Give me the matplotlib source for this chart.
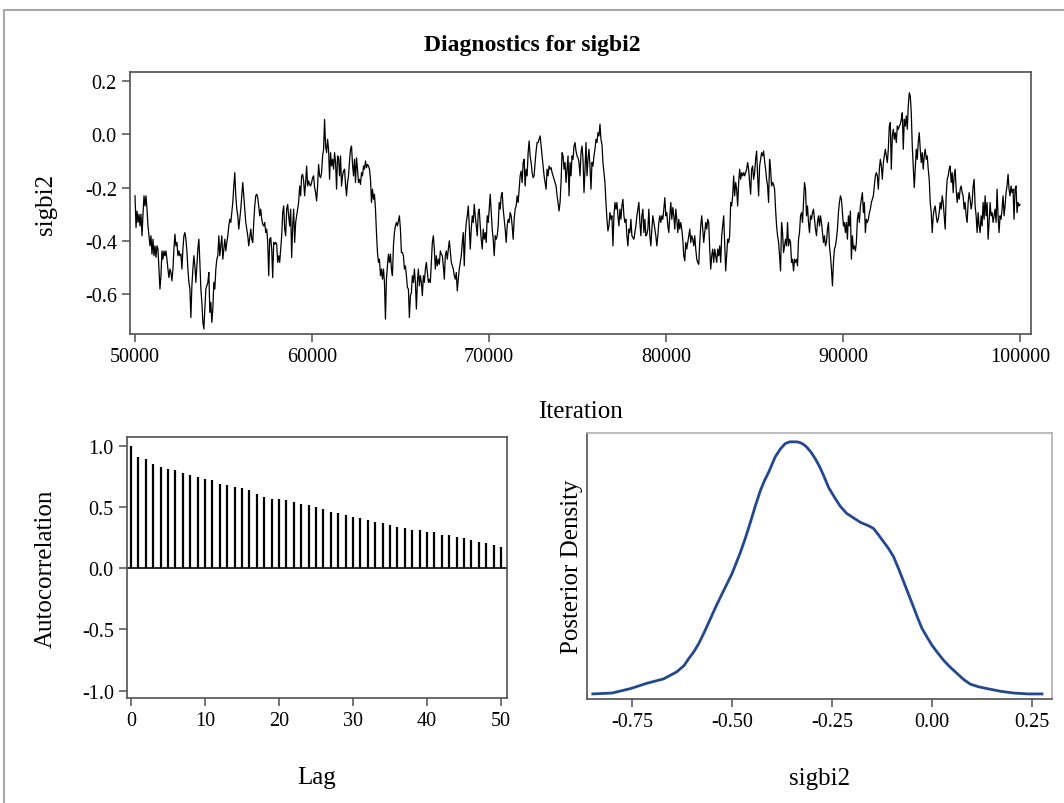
import numpy as np
import matplotlib
matplotlib.use('Agg')
import matplotlib.pyplot as plt
from matplotlib.lines import Line2D

# Traza de sigbi2 (de izquierda a derecha)
traza = [
    # 50000 - 58500
    -0.231, -0.35, -0.288, -0.331, -0.30, -0.344, -0.30, -0.381, -0.30, -0.231,
    -0.269, -0.231, -0.281, -0.344, -0.381, -0.419, -0.381, -0.45, -0.394, -0.456,
    -0.419, -0.462, -0.419, -0.431, -0.506, -0.581, -0.531, -0.438, -0.469, -0.438,
    -0.456, -0.438, -0.469, -0.506, -0.538, -0.506, -0.519, -0.55, -0.506, -0.431,
    -0.375, -0.419, -0.406, -0.456, -0.438, -0.456, -0.45, -0.506, -0.431, -0.381,
    -0.369, -0.394, -0.438, -0.506, -0.556, -0.581, -0.688, -0.569, -0.506, -0.456,
    -0.494, -0.556, -0.494, -0.431, -0.394, -0.481, -0.581, -0.631, -0.706, -0.731,
    -0.656, -0.581, -0.569, -0.556, -0.519, -0.669, -0.631, -0.706, -0.656, -0.556,
    -0.581, -0.506, -0.469, -0.456, -0.381, -0.456, -0.419, -0.381, -0.469, -0.431,
    -0.394, -0.438, -0.406, -0.381, -0.344, -0.319, -0.331, -0.294, -0.256, -0.194,
    -0.144, -0.231, -0.281, -0.306, -0.356, -0.319, -0.281, -0.231, -0.181, -0.231,
    -0.281, -0.331, -0.356, -0.381, -0.419, -0.388, -0.356, -0.394, -0.406, -0.331,
    -0.269, -0.231, -0.225, -0.238, -0.269, -0.306, -0.281, -0.319, -0.338, -0.344,
    -0.331, -0.369, -0.356, -0.406, -0.531, -0.394, -0.388, -0.431, -0.538, -0.406,
    -0.413, -0.406, -0.413, -0.481, -0.456, -0.481,
    # 58500 - 67000
    -0.431, -0.381, -0.294, -0.269, -0.356, -0.381, -0.281, -0.263, -0.306, -0.344,
    -0.281, -0.463, -0.344, -0.281, -0.406, -0.331, -0.306, -0.281, -0.256, -0.194,
    -0.231, -0.156, -0.15, -0.175, -0.231, -0.181, -0.119, -0.194, -0.175, -0.188,
    -0.194, -0.181, -0.163, -0.156, -0.2, -0.219, -0.25, -0.194, -0.113, -0.156,
    -0.163, -0.144, -0.081, -0.056, 0.056, -0.044, -0.069, -0.019, -0.056, -0.169,
    -0.069, -0.119, -0.094, -0.131, -0.069, -0.106, -0.206, -0.081, -0.088, -0.156,
    -0.081, -0.194, -0.156, -0.138, -0.131, -0.188, -0.231, -0.181, -0.156, -0.1,
    -0.056, -0.044, -0.113, -0.156, -0.094, -0.181, -0.088, -0.131, -0.181, -0.169,
    -0.188, -0.144, -0.156, -0.119, -0.131, -0.1, -0.125, -0.113, -0.119, -0.131,
    -0.169, -0.256, -0.206, -0.244, -0.225, -0.281, -0.369, -0.444, -0.481, -0.469,
    -0.531, -0.506, -0.544, -0.506, -0.556, -0.694, -0.544, -0.494, -0.45, -0.481,
    -0.45, -0.506, -0.531, -0.419, -0.369, -0.344, -0.331, -0.344, -0.325, -0.306,
    -0.356, -0.444, -0.444, -0.456, -0.506, -0.494, -0.531, -0.575, -0.581, -0.688,
    -0.606, -0.594, -0.531, -0.556, -0.506, -0.556, -0.656, -0.556, -0.506, -0.569,
    -0.531, -0.556, -0.606, -0.531, -0.556, -0.506, -0.481, -0.519, -0.556, -0.544,
    # 67000 - 75500
    -0.556, -0.481, -0.406, -0.381, -0.431, -0.506, -0.456, -0.494, -0.469, -0.488,
    -0.438, -0.45, -0.456, -0.494, -0.544, -0.456, -0.438, -0.469, -0.431, -0.4,
    -0.438, -0.481, -0.494, -0.506, -0.531, -0.544, -0.519, -0.588, -0.544, -0.506,
    -0.481, -0.456, -0.406, -0.369, -0.494, -0.381, -0.331, -0.306, -0.269, -0.344,
    -0.431, -0.356, -0.306, -0.331, -0.263, -0.306, -0.344, -0.381, -0.294, -0.281,
    -0.344, -0.394, -0.431, -0.356, -0.394, -0.369, -0.406, -0.306, -0.331, -0.281,
    -0.225, -0.294, -0.356, -0.394, -0.456, -0.381, -0.394, -0.381, -0.344, -0.256,
    -0.281, -0.231, -0.219, -0.281, -0.319, -0.356, -0.406, -0.344, -0.319, -0.331,
    -0.294, -0.306, -0.344, -0.394, -0.319, -0.281, -0.269, -0.231, -0.256, -0.206,
    -0.156, -0.138, -0.181, -0.106, -0.094, -0.194, -0.131, -0.156, -0.069, -0.025,
    -0.081, -0.106, -0.144, -0.163, -0.156, -0.106, -0.063, -0.031, -0.031, -0.019,
    -0.006, -0.044, -0.081, -0.119, -0.156, -0.181, -0.206, -0.131, -0.156, -0.119,
    -0.131, -0.125, -0.144, -0.156, -0.169, -0.181, -0.194, -0.231, -0.256, -0.288,
    -0.256, -0.181, -0.069, -0.081, -0.131, -0.106, -0.181, -0.131, -0.081, -0.231,
    -0.106, -0.156, -0.081, -0.094, -0.044, -0.031, -0.063, -0.081, -0.088, -0.106,
    # 75500 - 84000
    -0.156, -0.069, -0.044, -0.094, -0.219, -0.131, -0.031, -0.156, -0.094, -0.056,
    -0.119, -0.206, -0.106, -0.119, -0.081, -0.056, -0.019, -0.031, 0.006, -0.006,
    0.038, -0.019, -0.038, -0.106, -0.144, -0.181, -0.256, -0.319, -0.363, -0.344,
    -0.294, -0.319, -0.306, -0.419, -0.306, -0.256, -0.281, -0.256, -0.306, -0.344,
    -0.281, -0.319, -0.269, -0.244, -0.306, -0.331, -0.319, -0.381, -0.419, -0.356,
    -0.369, -0.319, -0.381, -0.388, -0.394, -0.369, -0.344, -0.306, -0.281, -0.256,
    -0.331, -0.381, -0.306, -0.281, -0.369, -0.319, -0.381, -0.375, -0.356, -0.281,
    -0.381, -0.419, -0.356, -0.306, -0.331, -0.356, -0.381, -0.419, -0.381, -0.331,
    -0.306, -0.331, -0.306, -0.319, -0.281, -0.238, -0.306, -0.294, -0.344, -0.369,
    -0.306, -0.256, -0.319, -0.275, -0.306, -0.356, -0.281, -0.319, -0.369, -0.319,
    -0.356, -0.331, -0.356, -0.394, -0.456, -0.475, -0.406, -0.431, -0.406, -0.381,
    -0.356, -0.406, -0.381, -0.394, -0.419, -0.381, -0.431, -0.469, -0.481, -0.488,
    -0.406, -0.344, -0.306, -0.356, -0.406, -0.369, -0.331, -0.356, -0.319, -0.331,
    -0.431, -0.506, -0.456, -0.431, -0.481, -0.431, -0.456, -0.481, -0.431, -0.456,
    -0.419, -0.481, -0.381, -0.344, -0.306, -0.406, -0.513, -0.456, -0.394, -0.406,
    # 84000 - 92500
    -0.381, -0.256, -0.269, -0.231, -0.156, -0.231, -0.181, -0.206, -0.269, -0.181,
    -0.131, -0.169, -0.144, -0.156, -0.144, -0.156, -0.144, -0.131, -0.106, -0.131,
    -0.181, -0.225, -0.131, -0.119, -0.169, -0.144, -0.094, -0.063, -0.156, -0.231,
    -0.119, -0.094, -0.069, -0.081, -0.063, -0.1, -0.131, -0.169, -0.194, -0.256,
    -0.094, -0.131, -0.194, -0.181, -0.188, -0.206, -0.281, -0.344, -0.381, -0.406,
    -0.456, -0.513, -0.331, -0.369, -0.444, -0.419, -0.394, -0.419, -0.331, -0.419,
    -0.394, -0.406, -0.481, -0.469, -0.513, -0.469, -0.481, -0.469, -0.494, -0.394,
    -0.369, -0.306, -0.294, -0.331, -0.256, -0.181, -0.206, -0.306, -0.269, -0.331,
    -0.369, -0.306, -0.319, -0.294, -0.281, -0.319, -0.356, -0.381, -0.331, -0.306,
    -0.344, -0.306, -0.331, -0.369, -0.406, -0.381, -0.419, -0.406, -0.356, -0.331,
    -0.419, -0.456, -0.506, -0.569, -0.481, -0.431, -0.419, -0.394, -0.356, -0.294,
    -0.256, -0.231, -0.244, -0.294, -0.344, -0.331, -0.369, -0.331, -0.394, -0.306,
    -0.344, -0.288, -0.469, -0.381, -0.431, -0.419, -0.438, -0.406, -0.319, -0.294,
    -0.331, -0.269, -0.244, -0.219, -0.294, -0.256, -0.369, -0.319, -0.331, -0.319,
    -0.294, -0.281, -0.256, -0.244, -0.231, -0.194, -0.156, -0.144, -0.156, -0.206,
    # 92500 - 100000
    -0.131, -0.094, -0.119, -0.169, -0.106, -0.081, -0.056, -0.081, -0.106, -0.056,
    0.031, 0.044, -0.131, -0.006, 0.019, -0.019, 0.006, -0.031, 0.031, 0.019,
    0.031, 0.038, 0.056, 0.081, -0.056, 0.056, 0.031, 0.069, 0.019, 0.106,
    0.156, 0.144, 0.081, -0.044, -0.119, -0.2, -0.131, -0.056, -0.094, -0.031,
    0.006, -0.056, -0.106, -0.069, -0.131, -0.081, -0.056, -0.094, -0.081, -0.131,
    -0.169, -0.256, -0.294, -0.369, -0.306, -0.281, -0.269, -0.306, -0.331, -0.319,
    -0.294, -0.256, -0.281, -0.231, -0.256, -0.306, -0.356, -0.231, -0.169, -0.156,
    -0.131, -0.119, -0.181, -0.144, -0.219, -0.156, -0.131, -0.206, -0.256, -0.219,
    -0.244, -0.206, -0.194, -0.219, -0.231, -0.281, -0.256, -0.306, -0.331, -0.256,
    -0.219, -0.244, -0.281, -0.256, -0.194, -0.169, -0.269, -0.306, -0.369, -0.294,
    -0.344, -0.369, -0.306, -0.344, -0.256, -0.319, -0.231, -0.306, -0.256, -0.394,
    -0.331, -0.256, -0.306, -0.294, -0.331, -0.306, -0.281, -0.331, -0.206, -0.306,
    -0.369, -0.306, -0.319, -0.281, -0.231, -0.306, -0.269, -0.219, -0.194, -0.15,
    -0.206, -0.231, -0.194, -0.219, -0.206, -0.319, -0.206, -0.194, -0.294, -0.256,
    -0.269, -0.263,
]
iteraciones = np.linspace(50000, 100000, len(traza))

# Autocorrelación por lag (0..50)
lags = np.arange(0, 51)
autocorr = [
    1.0, 0.905, 0.89, 0.85, 0.825, 0.81, 0.80, 0.775, 0.757, 0.743,
    0.73, 0.716, 0.69, 0.676, 0.662, 0.65, 0.635, 0.608, 0.58, 0.568,
    0.568, 0.554, 0.54, 0.524, 0.514, 0.50, 0.486, 0.46, 0.446, 0.432,
    0.42, 0.405, 0.39, 0.378, 0.365, 0.351, 0.338, 0.324, 0.31, 0.31,
    0.297, 0.297, 0.27, 0.27, 0.257, 0.243, 0.23, 0.216, 0.203, 0.19,
    0.176,
]

# Densidad posterior (estimada)
dens_x = [-0.848, -0.80, -0.754, -0.713, -0.671, -0.638, -0.620, -0.608, -0.595,
          -0.583, -0.568, -0.554, -0.540, -0.525, -0.50, -0.479, -0.466, -0.454,
          -0.442, -0.429, -0.418, -0.408, -0.392, -0.379, -0.367, -0.356, -0.346,
          -0.337, -0.329, -0.321, -0.313, -0.302, -0.292, -0.281, -0.271, -0.258,
          -0.242, -0.229, -0.213, -0.196, -0.179, -0.158, -0.146, -0.134, -0.121,
          -0.108, -0.096, -0.083, -0.071, -0.058, -0.046, -0.035, -0.025, -0.012,
          0.0, 0.015, 0.029, 0.046, 0.063, 0.080, 0.096, 0.117, 0.138, 0.171,
          0.204, 0.240, 0.275]
dens_y = [0.0, 0.01, 0.06, 0.12, 0.17, 0.25, 0.32, 0.40, 0.48,
          0.57, 0.71, 0.85, 0.99, 1.13, 1.36, 1.60, 1.77, 1.94,
          2.12, 2.30, 2.42, 2.51, 2.68, 2.77, 2.83, 2.85, 2.85,
          2.85, 2.84, 2.82, 2.79, 2.73, 2.66, 2.57, 2.47, 2.33,
          2.21, 2.12, 2.04, 1.99, 1.94, 1.90, 1.87, 1.80, 1.72,
          1.64, 1.55, 1.41, 1.27, 1.12, 0.98, 0.85, 0.74, 0.64,
          0.55, 0.46, 0.38, 0.30, 0.23, 0.16, 0.11, 0.08, 0.06, 0.03,
          0.01, 0.0, 0.0]

plt.rcParams['font.family'] = ['Liberation Serif', 'DejaVu Serif']

fig = plt.figure(figsize=(10.64, 8.04), dpi=100)
fig.patch.set_facecolor('white')

# marco gris de la salida
fig.add_artist(Line2D([0.004, 1.0], [0.986, 0.986], color='#a8a8a8', lw=1.5))
fig.add_artist(Line2D([0.004, 0.004], [0.0, 0.986], color='#a8a8a8', lw=1.5))

gris = '#505050'
tick_kw = dict(direction='out', length=6, width=1.1, color=gris, labelsize=14.5, labelcolor='black')

def estilo(ax, color_borde=gris):
    for s in ax.spines.values():
        s.set_color(color_borde)
        s.set_linewidth(1.2)
    ax.tick_params(**tick_kw)

fig.text(0.5, 0.944, 'Diagnostics for sigbi2', ha='center', va='center',
         fontsize=17, fontweight='bold')

# Traza
ax1 = fig.add_axes([0.1222, 0.5833, 0.8468, 0.3259])
ax1.plot(iteraciones, traza, color='black', lw=0.9)
ax1.set_xlim(49718, 100621)
ax1.set_ylim(-0.75, 0.234)
ax1.set_xticks([50000, 60000, 70000, 80000, 90000, 100000])
ax1.set_yticks([0.2, 0.0, -0.2, -0.4, -0.6])
ax1.set_yticklabels(['0.2', '0.0', '-0.2', '-0.4', '-0.6'])
ax1.set_xlabel('Iteration', fontsize=18, labelpad=24)
ax1.set_ylabel('sigbi2', fontsize=18, labelpad=20)
estilo(ax1)

# Autocorrelación
ax2 = fig.add_axes([0.1194, 0.1306, 0.3571, 0.3246])
ax2.vlines(lags, 0, autocorr, color='black', lw=1.6)
ax2.axhline(0, color='black', lw=1.2)
ax2.set_xlim(-0.54, 50.8)
ax2.set_ylim(-1.06, 1.07)
ax2.set_xticks([0, 10, 20, 30, 40, 50])
ax2.set_yticks([1.0, 0.5, 0.0, -0.5, -1.0])
ax2.set_yticklabels(['1.0', '0.5', '0.0', '-0.5', '-1.0'])
ax2.set_xlabel('Lag', fontsize=18, labelpad=26)
ax2.set_ylabel('Autocorrelation', fontsize=18, labelpad=18)
estilo(ax2)

# Densidad posterior
ax3 = fig.add_axes([0.5517, 0.1294, 0.437, 0.3308])
ax3.plot(dens_x, dens_y, color='#23488f', lw=2)
ax3.set_xlim(-0.8625, 0.30)
ax3.set_ylim(-0.057, 2.95)
ax3.set_xticks([-0.75, -0.50, -0.25, 0.00, 0.25])
ax3.set_xticklabels(['-0.75', '-0.50', '-0.25', '0.00', '0.25'])
ax3.set_yticks([])
ax3.set_xlabel('sigbi2', fontsize=18, labelpad=26)
ax3.set_ylabel('Posterior Density', fontsize=18, labelpad=3)
estilo(ax3)
ax3.spines['top'].set_color('#b0b0b0')
ax3.spines['right'].set_color('#b0b0b0')

fig.savefig('out.png', dpi=100)
